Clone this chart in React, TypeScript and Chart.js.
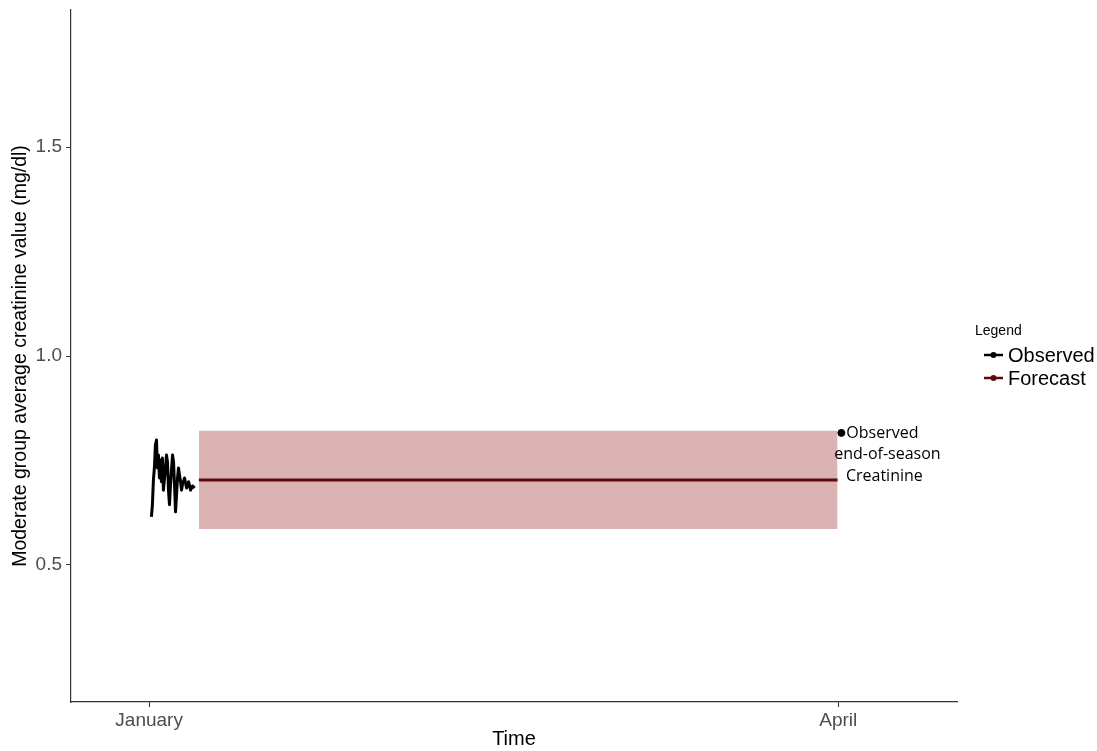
import React, { useEffect, useRef } from "react";
import { Chart, registerables } from "chart.js";

Chart.register(...registerables);

// Time in days since 1 January
const obsT = [0.3, 0.43, 0.56, 0.69, 0.82, 0.96, 1.09, 1.22, 1.35, 1.48, 1.61, 1.74, 1.87, 2.01, 2.14, 2.27, 2.4, 2.53, 2.66, 2.79, 2.92, 3.06, 3.19, 3.32, 3.45, 3.58, 3.71, 3.84, 3.97, 4.11, 4.24, 4.37, 4.63, 4.89, 5.16, 5.42, 5.68, 5.94];
const obsV = [0.615, 0.644, 0.703, 0.732, 0.787, 0.799, 0.732, 0.763, 0.708, 0.751, 0.699, 0.756, 0.679, 0.708, 0.732, 0.763, 0.746, 0.679, 0.644, 0.691, 0.727, 0.763, 0.746, 0.691, 0.627, 0.667, 0.708, 0.732, 0.715, 0.699, 0.679, 0.694, 0.708, 0.684, 0.699, 0.679, 0.689, 0.684];

const forecastT = [6.5, 89.9];
const forecastV = [0.703, 0.703];
const forecastUpper = [0.821, 0.821];
const forecastLower = [0.586, 0.586];

const endT = [90.4];
const endV = [0.816];

const xTickValues = [0, 90];
const xTickLabels = ["January", "April"];
const yTickValues = [0.5, 1.0, 1.5];
const yTickLabels = ["0.5", "1.0", "1.5"];

const annotationLines = ["Observed", "end-of-season", "Creatinine"];
const legendTitle = "Legend";
const legendItems = ["Observed", "Forecast"];

const OBS_COLOR = "#000000";
const FC_COLOR = "#5e0a0a";
const BAND_COLOR = "rgba(183, 104, 104, 0.5)";
const AXIS_COLOR = "#333333";
const TICK_LABEL_COLOR = "#4d4d4d";
const SANS = "'Liberation Sans', Arial, sans-serif";

const zip = (t: number[], v: number[]) => t.map((x, i) => ({ x, y: v[i] }));

const overlayPlugin = {
  id: "overlay",
  afterDatasetsDraw(chart: any) {
    const { ctx, scales } = chart;
    const xs = scales.x;
    const ys = scales.y;
    ctx.save();
    // annotation near observed end-of-season point
    const px = xs.getPixelForValue(endT[0]);
    const py = ys.getPixelForValue(endV[0]);
    ctx.fillStyle = "#000";
    ctx.font = "16px 'Open Sans', 'Noto Sans', sans-serif";
    ctx.textBaseline = "middle";
    ctx.textAlign = "left";
    ctx.fillText(annotationLines[0], px + 5, py + 1);
    ctx.textAlign = "center";
    ctx.fillText(annotationLines[1], px + 46, py + 22);
    ctx.fillText(annotationLines[2], px + 43, py + 44);

    // legend
    const lx = 975;
    ctx.textAlign = "left";
    ctx.font = "14px " + SANS;
    ctx.fillStyle = "#000";
    ctx.fillText(legendTitle, lx, 331);
    const colors = [OBS_COLOR, FC_COLOR];
    legendItems.forEach((label, i) => {
      const y = 355 + i * 23;
      ctx.strokeStyle = colors[i];
      ctx.fillStyle = colors[i];
      ctx.lineWidth = 2.5;
      ctx.beginPath();
      ctx.moveTo(984, y);
      ctx.lineTo(1003, y);
      ctx.stroke();
      ctx.beginPath();
      ctx.arc(993.5, y, 3, 0, Math.PI * 2);
      ctx.fill();
      ctx.fillStyle = "#000";
      ctx.font = "20px " + SANS;
      ctx.fillText(label, 1008, y + 1);
    });
    ctx.restore();
  },
};

export default function App() {
  const ref = useRef<HTMLCanvasElement | null>(null);
  useEffect(() => {
    if (!ref.current) return;
    const chart = new Chart(ref.current, {
      type: "line",
      data: {
        datasets: [
          {
            label: "upper",
            data: zip(forecastT, forecastUpper),
            borderWidth: 0,
            pointRadius: 0,
            borderColor: "rgba(0,0,0,0)",
            backgroundColor: BAND_COLOR,
            fill: "+1",
            order: 10,
          },
          {
            label: "lower",
            data: zip(forecastT, forecastLower),
            borderWidth: 0,
            pointRadius: 0,
            borderColor: "rgba(0,0,0,0)",
            fill: false,
            order: 9,
          },
          {
            label: "Forecast",
            data: zip(forecastT, forecastV),
            borderColor: FC_COLOR,
            borderWidth: 3,
            pointRadius: 0,
            fill: false,
            order: 2,
          },
          {
            label: "Observed",
            data: zip(obsT, obsV),
            borderColor: OBS_COLOR,
            borderWidth: 3,
            borderJoinStyle: "round",
            pointRadius: 0,
            tension: 0,
            fill: false,
            order: 1,
          },
          {
            label: "End",
            data: zip(endT, endV),
            showLine: false,
            pointRadius: 3.5,
            pointBackgroundColor: "#000",
            pointBorderColor: "#000",
            fill: false,
            order: 0,
          },
        ],
      },
      options: {
        responsive: false,
        animation: false,
        layout: { padding: { top: 10, right: 140, left: 0, bottom: 0 } },
        plugins: { legend: { display: false }, tooltip: { enabled: false } },
        scales: {
          x: {
            type: "linear",
            min: -10.2,
            max: 105.5,
            afterFit: (s: any) => {
              s.height = 49;
              s.paddingLeft = 0;
              s.paddingRight = 0;
            },
            afterBuildTicks: (s: any) => {
              s.ticks = xTickValues.map((v) => ({ value: v }));
            },
            grid: {
              drawOnChartArea: false,
              tickLength: 5,
              color: AXIS_COLOR,
              tickWidth: 1,
            },
            border: { color: AXIS_COLOR, width: 1.2 },
            ticks: {
              autoSkip: false,
              maxRotation: 0,
              padding: 2,
              color: TICK_LABEL_COLOR,
              font: { family: SANS, size: 19 },
              callback: (v: any) => {
                const i = xTickValues.indexOf(Number(v));
                return i >= 0 ? xTickLabels[i] : "";
              },
            },
            title: {
              display: true,
              text: "Time",
              color: "#000",
              font: { family: SANS, size: 20 },
              padding: { top: 0, bottom: 0 },
            },
          },
          y: {
            type: "linear",
            min: 0.172,
            max: 1.828,
            afterFit: (s: any) => {
              s.width = 71;
              s.paddingTop = 0;
              s.paddingBottom = 0;
            },
            afterBuildTicks: (s: any) => {
              s.ticks = yTickValues.map((v) => ({ value: v }));
            },
            grid: {
              drawOnChartArea: false,
              tickLength: 5,
              color: AXIS_COLOR,
              tickWidth: 1,
            },
            border: { color: AXIS_COLOR, width: 1.2 },
            ticks: {
              padding: 4,
              color: TICK_LABEL_COLOR,
              font: { family: SANS, size: 19 },
              callback: (v: any) => {
                const i = yTickValues.indexOf(Number(v));
                return i >= 0 ? yTickLabels[i] : "";
              },
            },
            title: {
              display: true,
              text: "Moderate group average creatinine value (mg/dl)",
              color: "#000",
              font: { family: SANS, size: 19.5 },
              padding: { top: 9, bottom: 0 },
            },
          },
        },
      },
      plugins: [overlayPlugin],
    } as any);
    return () => chart.destroy();
  }, []);
  return (
    <div style={{ position: "absolute", left: 0, top: 0, width: 1097, height: 751, background: "#fff" }}>
      <canvas ref={ref} width={1097} height={751} />
    </div>
  );
}
